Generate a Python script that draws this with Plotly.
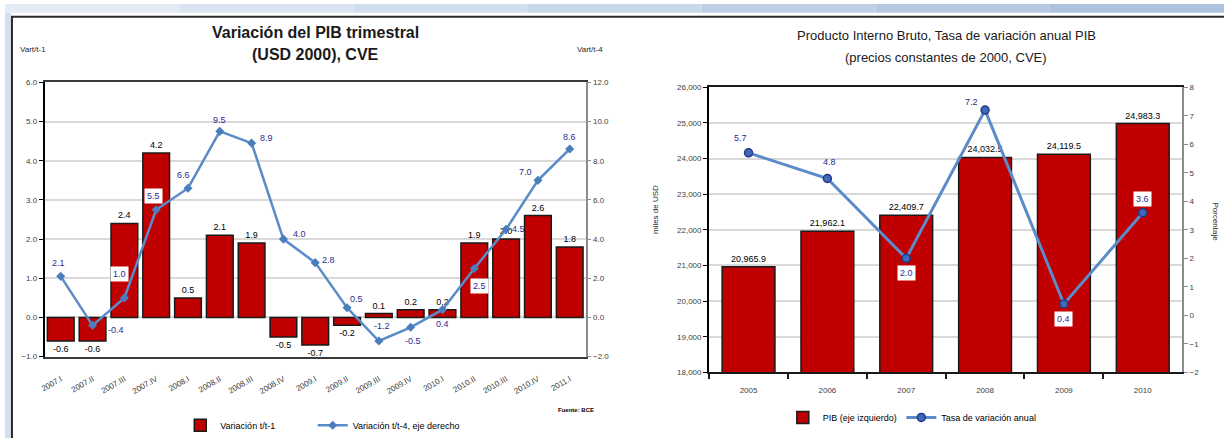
import plotly.graph_objects as go

# ---- data: quarterly GDP variation (left panel) ----
quarters = ["2007.I", "2007.II", "2007.III", "2007.IV", "2008.I", "2008.II", "2008.III",
            "2008.IV", "2009.I", "2009.II", "2009.III", "2009.IV", "2010.I", "2010.II",
            "2010.III", "2010.IV", "2011.I"]
var_t1 = [-0.6, -0.6, 2.4, 4.2, 0.5, 2.1, 1.9, -0.5, -0.7, -0.2, 0.1, 0.2, 0.2, 1.9, 2.0, 2.6, 1.8]
var_t4 = [2.1, -0.4, 1.0, 5.5, 6.6, 9.5, 8.9, 4.0, 2.8, 0.5, -1.2, -0.5, 0.4, 2.5, 4.5, 7.0, 8.6]

# ---- data: annual GDP and growth rate (right panel) ----
years = ["2005", "2006", "2007", "2008", "2009", "2010"]
pib = [20965.9, 21962.1, 22409.7, 24032.5, 24119.5, 24983.3]
tasa = [5.7, 4.8, 2.0, 7.2, 0.4, 3.6]

# label placement styles for the line series: (xshift, yshift, boxed)
t4_label_style = [(-2, 13, False), (23, -5, False), (-5, 24, True), (-3, 14, True),
                  (-4, 13, False), (0, 11, False), (15, 5, False), (16, 5, False),
                  (13, 3, False), (9, 9, False), (3, 15, False), (2, -14, False),
                  (0, -14, False), (5, -17, True), (12, 0, False), (-12, 8, False),
                  (0, 12, False)]
tasa_label_style = [(-8, 15, False), (2, 17, False), (0, -15, True),
                    (-14, 8, False), (0, -15, True), (0, 14, True)]

W, H = 1224, 443
def px(x):
    return x / W
def py(y):
    return 1 - y / H

BAR_RED = "#c00000"
LINE_BLUE = "#5b8bc8"
LABEL_BLUE = "#2b2b8c"
TEXT_FONT = "Liberation Sans Narrow, Liberation Sans, sans-serif"
TICK_FONT = dict(family=TEXT_FONT, size=8, color="#404040")
LEGEND_FONT = dict(family=TEXT_FONT, size=9, color="#000000")

fig = go.Figure()

# left panel
fig.add_trace(go.Bar(
    x=quarters, y=var_t1, name="Variación t/t-1", xaxis="x", yaxis="y",
    marker=dict(color=BAR_RED, line=dict(color="#1a1a1a", width=1.5)),
    width=0.84, texttemplate="%{y:.1f}", textposition="outside", constraintext="none",
    textfont=dict(family=TEXT_FONT, size=9, color="#000000"), cliponaxis=False,
    legend="legend"))
fig.add_trace(go.Scatter(
    x=quarters, y=var_t4, name="Variación t/t-4, eje derecho", xaxis="x", yaxis="y2",
    mode="lines+markers", line=dict(color=LINE_BLUE, width=2.5),
    marker=dict(symbol="diamond", size=7, color="#4a7dbb"), legend="legend3"))

# right panel
fig.add_trace(go.Bar(
    x=years, y=pib, name="PIB (eje izquierdo)", xaxis="x2", yaxis="y3",
    marker=dict(color=BAR_RED, line=dict(color="#1a1a1a", width=1.5)),
    width=0.67, texttemplate="%{y:,.1f}", textposition="outside", constraintext="none",
    textfont=dict(family=TEXT_FONT, size=9, color="#000000"), cliponaxis=False,
    legend="legend2"))
fig.add_trace(go.Scatter(
    x=years, y=tasa, name="Tasa de variación anual", xaxis="x2", yaxis="y4",
    mode="lines+markers", line=dict(color=LINE_BLUE, width=3),
    marker=dict(symbol="circle", size=8, color="#4468b8", line=dict(color="#1f3a8a", width=1.5)),
    legend="legend4"))

annotations = []
# value labels on the lines (category axes take the serial index of each category)
for i, (v, (dx, dy, boxed)) in enumerate(zip(var_t4, t4_label_style)):
    annotations.append(dict(
        x=i, y=v, xref="x", yref="y2", text=f"{v:.1f}", showarrow=False,
        xanchor="center", yanchor="middle",
        xshift=dx, yshift=dy, font=dict(family=TEXT_FONT, size=9, color=LABEL_BLUE),
        bgcolor="#ffffff" if boxed else "rgba(0,0,0,0)", borderpad=2))
for i, (v, (dx, dy, boxed)) in enumerate(zip(tasa, tasa_label_style)):
    annotations.append(dict(
        x=i, y=v, xref="x2", yref="y4", text=f"{v:.1f}", showarrow=False,
        xanchor="center", yanchor="middle",
        xshift=dx, yshift=dy, font=dict(family=TEXT_FONT, size=9, color=LABEL_BLUE),
        bgcolor="#ffffff" if boxed else "rgba(0,0,0,0)", borderpad=2))

def note(x, y, text, size, color="#262626", angle=0):
    return dict(x=px(x), y=py(y), xref="paper", yref="paper", text=text, showarrow=False,
                xanchor="center", yanchor="middle", textangle=angle,
                font=dict(family=TEXT_FONT, size=size, color=color))

# titles and axis captions
annotations += [
    note(312, 29, "<b>Variación del PIB trimestral</b>", 16, "#1a1a1a"),
    note(312, 52, "<b>(USD 2000), CVE</b>", 16, "#1a1a1a"),
    note(28, 46, "Vart/t-1", 8),
    note(587, 46, "Vart/t-4", 8),
    note(573, 414, "<b>Fuente: BCE</b>", 6, "#000000"),
    note(945, 32, "Producto Interno Bruto, Tasa de variación anual PIB", 13, "#1a1a1a"),
    note(945, 55, "(precios constantes de 2000, CVE)", 13, "#1a1a1a"),
    note(653, 210, "miles de USD", 8, angle=-90),
    note(1215, 222, "Porcentaje", 8, angle=90),
]

# slide decoration: top band, left strip and frame lines
shapes = []
band_colors = ["#e3ebf5", "#dae4f1", "#d1deee", "#c8d7ea", "#bfd0e6", "#b6c9e2", "#adc2de"]
seg = 1.0 / len(band_colors)
for i, c in enumerate(band_colors):
    shapes.append(dict(type="rect", xref="paper", yref="paper", x0=i * seg, x1=(i + 1) * seg,
                       y0=py(9), y1=1, fillcolor=c, line=dict(width=0), layer="below"))
shapes.append(dict(type="rect", xref="paper", yref="paper", x0=0, x1=px(6), y0=0, y1=py(9),
                   fillcolor="#d3dfee", line=dict(width=0), layer="below"))
shapes.append(dict(type="line", xref="paper", yref="paper", x0=px(6), x1=1, y0=py(13), y1=py(13),
                   line=dict(color="#2b2b2b", width=2)))
shapes.append(dict(type="line", xref="paper", yref="paper", x0=px(7), x1=px(7), y0=0, y1=py(13),
                   line=dict(color="#2b2b2b", width=2)))

left_dom = [px(40), px(583)]
right_dom = [px(707), px(1182)]

def legend_at(x, y):
    return dict(orientation="h", x=px(x), y=py(y), xanchor="left", yanchor="middle",
                font=LEGEND_FONT, bgcolor="rgba(0,0,0,0)")

fig.update_layout(
    width=W, height=H, autosize=False,
    margin=dict(l=0, r=0, t=0, b=0),
    paper_bgcolor="#ffffff", plot_bgcolor="#ffffff",
    showlegend=True,
    annotations=annotations, shapes=shapes,
    xaxis=dict(domain=left_dom, anchor="y", type="category", range=[-0.5, len(quarters) - 0.5],
               showline=True, mirror=True, linecolor="#3a3a3a", linewidth=1.5,
               ticks="", tickangle=-30, tickfont=TICK_FONT, ticklabelstandoff=13,
               showgrid=False, zeroline=False),
    # axis along the zero line with ticks between quarters
    xaxis3=dict(domain=left_dom, overlaying="x", anchor="free", position=py(320),
                range=[-0.5, len(quarters) - 0.5], tickmode="linear", tick0=-0.5, dtick=1,
                ticks="outside", ticklen=5, tickcolor="#000000", tickwidth=1.5,
                showticklabels=False, showline=True, linecolor="#000000", linewidth=2,
                showgrid=False, zeroline=False),
    yaxis=dict(domain=[py(360), py(80)], anchor="x", range=[-1, 6], dtick=1, tickformat=".1f",
               showline=True, linecolor="#000000", linewidth=2, ticks="outside", ticklen=4,
               tickcolor="#000000", tickfont=TICK_FONT, showgrid=True, gridcolor="#d9d9d9",
               gridwidth=2, zeroline=False),
    yaxis2=dict(overlaying="y", side="right", anchor="x", range=[-2, 12], dtick=2, tickformat=".1f",
                showline=True, linecolor="#8c8c8c", linewidth=1.5, ticks="outside", ticklen=4,
                tickcolor="#8c8c8c", tickfont=TICK_FONT, showgrid=False, zeroline=False),
    xaxis2=dict(domain=right_dom, anchor="y3", type="category", range=[-0.5, len(years) - 0.5],
                showline=True, mirror=True, linecolor="#1a1a1a", linewidth=2,
                ticks="outside", tickson="boundaries", ticklen=5, tickcolor="#1a1a1a",
                tickwidth=1.5, tickfont=TICK_FONT, ticklabelstandoff=9,
                showgrid=False, zeroline=False),
    yaxis3=dict(domain=[py(376), py(85)], anchor="x2", range=[18000, 26000], dtick=1000,
                tickformat=",d", showline=True, linecolor="#000000", linewidth=2,
                ticks="outside", ticklen=4, tickcolor="#000000", tickfont=TICK_FONT,
                showgrid=True, gridcolor="#d9d9d9", gridwidth=2, zeroline=False),
    yaxis4=dict(overlaying="y3", side="right", anchor="x2", range=[-2, 8], dtick=1,
                showline=True, linecolor="#8c8c8c", linewidth=1.5, ticks="outside", ticklen=4,
                tickcolor="#8c8c8c", tickfont=TICK_FONT, showgrid=False, zeroline=False),
    legend=legend_at(176, 430),
    legend3=legend_at(309, 430),
    legend2=legend_at(781, 422),
    legend4=legend_at(900, 422),
)

fig.write_html("out.html")
